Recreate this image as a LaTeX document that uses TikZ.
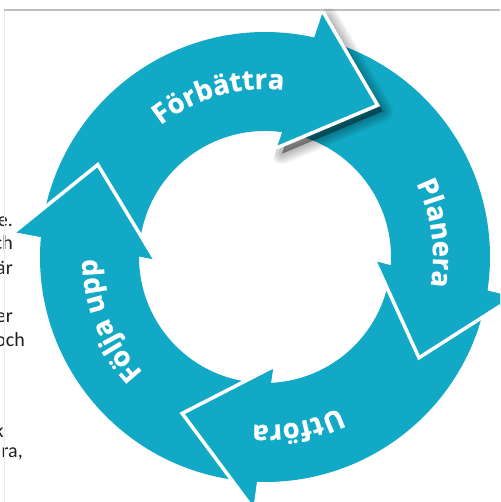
\documentclass[tikz,border=0pt]{standalone}
\usepackage{fontspec}
\setmainfont{Open Sans}
\newfontfamily\lblfam[BoldFeatures={FakeBold=0.7}]{Open Sans}
\newfontfamily\docfont{Carlito}
\usetikzlibrary{calc,decorations.text}
\definecolor{cyc}{RGB}{17,169,198}
\definecolor{docline}{RGB}{191,191,191}
\definecolor{margline}{RGB}{235,235,235}
\definecolor{doctext}{RGB}{30,30,30}
\newcommand\lblfont{\lblfam\fontsize{27.5}{27.5}\selectfont\bfseries\color{white}}
\tikzset{
  edge/.style={draw=white, line width=3.5pt, line join=miter, miter limit=10},
  frag/.style={anchor=base east, inner sep=0pt, text=doctext, font=\docfont\fontsize{20}{20}\selectfont},
}
\newcommand\cycbody[5]{%
  \pgfmathsetmacro\aOE{#2+23.9}%
  \pgfmathsetmacro\aBO{#2+23.3}%
  \pgfmathsetmacro\aBI{#2+30.3}%
  \pgfmathsetmacro\aIE{#2+28.7}%
  \coordinate (#1-oe) at ($(C)+(\aOE:225pt)$);
  \coordinate (#1-bo) at ($(C)+(\aBO:252pt)$);
  \coordinate (#1-tip) at ($(C)+(#3:#4pt)$);
  \coordinate (#1-bi) at ($(C)+(\aBI:110pt)$);
  \coordinate (#1-ie) at ($(C)+(\aIE:126pt)$);
  \coordinate (#1-to) at ($(C)+(#5:225pt)$);
  \fill[cyc] (#1-to) arc[start angle=#5, end angle=\aOE, radius=225pt] -- (#1-bo) -- (#1-tip) -- (#1-bi) -- (#1-ie) arc[start angle=\aIE, end angle=#5, radius=126pt] -- cycle;
}
\newcommand\cychead[1]{%
  \fill[cyc] (#1-bo) -- (#1-tip) -- (#1-bi) -- (#1-ie) -- (#1-oe) -- cycle;
  \draw[edge] (#1-bo) -- (#1-tip) -- (#1-bi);
}
\newcommand\cyclabel[3]{%
  \pgfmathsetmacro\aS{#2+45}\pgfmathsetmacro\aE{#2-45}%
  \coordinate (#1-ls) at ($(C)+(\aS:168pt)$);
  \path[decorate, decoration={text along path, text align=center, text={|\lblfont|#3}}] (#1-ls) arc[start angle=\aS, end angle=\aE, radius=168pt];
}
\begin{document}
\begin{tikzpicture}[x=1pt,y=1pt]
\useasboundingbox (0,0) rectangle (500,502);
\clip (0,0) rectangle (500,502);
\coordinate (C) at (265,245);
\node[frag] (f1) at (13,275) {e.};
\node[frag] (f2) at (13,252) {ch};
\node[frag] (f3) at (13,227) {är};
\node[frag] (f4) at (13,179) {er};
\node[frag] (f5) at (25,155) {och};
\node[frag] (f6) at (4,64) {k};
\node[frag] (f7) at (23,44) {ra,};
\coordinate (m0) at (4,0); \coordinate (m1) at (4,492); \coordinate (m2) at (500,492);
\draw[margline, line width=0.8pt] (m0) -- (m1);
\draw[docline, line width=1.3pt] (m1) -- (m2);
\cycbody{F}{53.4}{53.4}{189}{171}
\cycbody{P}{-32.5}{-33.2}{184}{72.4}
\cycbody{U}{-116}{-117.9}{177}{-12.5}
\cycbody{L}{151}{151.1}{191}{264}
\coordinate (E1) at ($(F-bo)!-2!(F-bi)$);
\coordinate (E2) at ($(F-bi)!-2!(F-bo)$);
\begin{scope}
\clip (E1) -- (E2) -- ($(E2)+(400,0)$) -- ($(E1)+(400,0)$) -- cycle;
\fill[black, opacity=0.4] ($(F-bo)+(5,-6)$) -- ($(F-tip)+(5,-6)$) -- ($(F-bi)+(5,-6)$) -- cycle;
\foreach \w in {3,6,...,21}{
 \draw[black, opacity=0.045, line width=\w pt, line join=round] ($(F-bo)+(5,-6)$) -- ($(F-tip)+(5,-6)$) -- ($(F-bi)+(5,-6)$) -- cycle;
}
\end{scope}
\cychead{F}\cychead{P}\cychead{U}\cychead{L}
\cyclabel{F}{106}{Förbättra}
\cyclabel{P}{8}{Planera}
\cyclabel{U}{-79}{Utföra}
\cyclabel{L}{202}{Följa upp}
\end{tikzpicture}
\end{document}
